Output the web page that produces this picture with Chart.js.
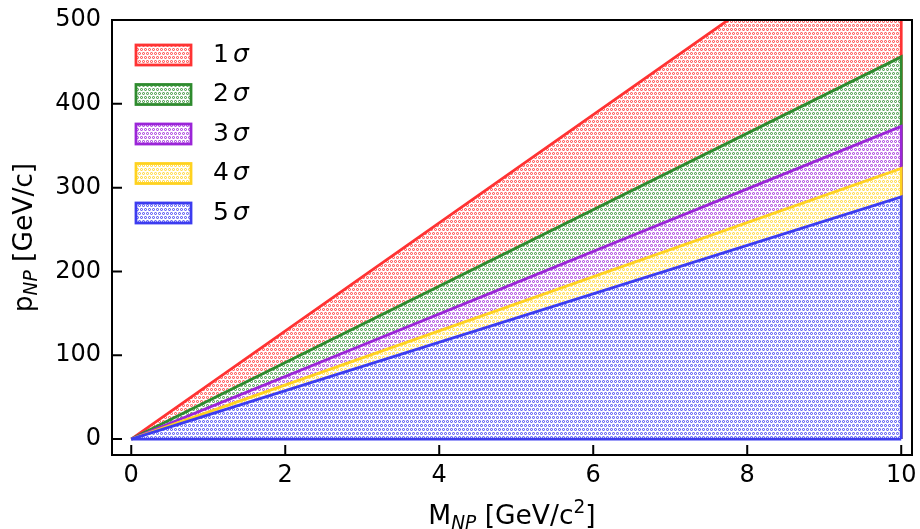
<!DOCTYPE html>
<html>
<head>
<meta charset="utf-8">
<script src="https://cdn.jsdelivr.net/npm/chart.js@4.4.0/dist/chart.umd.min.js"></script>
<style>
  html, body { margin: 0; padding: 0; background: #fff; }
  #wrap { width: 920px; height: 529px; }
</style>
</head>
<body>
<div id="wrap"><canvas id="sigmaChart"></canvas></div>
<script>
// n-sigma levels and their colours
const sigmaLevels = ['1', '2', '3', '4', '5'];
const sigmaColors = ['#ff3333', '#2e8b2e', '#9b25d8', '#ffd21f', '#3c3cf0'];

// mass range and p_NP reached at the end of it, one per level
const massEdge = [0, 10];
const pAtMassEnd = [645, 456, 373, 323, 289];

const xTicks = [0, 2, 4, 6, 8, 10];
const yTicks = [0, 100, 200, 300, 400, 500];

const FONT = "'DejaVu Sans', sans-serif";

const canvas = document.getElementById('sigmaChart');
const ctx = canvas.getContext('2d');

// little rings, like the matplotlib 'o' hatch
function makeHatch(color) {
    const tile = document.createElement('canvas');
    tile.width = 8;
    tile.height = 8;
    const c = tile.getContext('2d');
    c.fillStyle = '#fff';
    c.fillRect(0, 0, 8, 8);
    c.fillStyle = color;
    const ring = (x0, y0) => {
        c.globalAlpha = 0.75;
        c.fillRect(x0 + 1, y0, 1, 1);
        c.fillRect(x0 + 1, y0 + 2, 1, 1);
        c.fillRect(x0, y0 + 1, 1, 1);
        c.fillRect(x0 + 2, y0 + 1, 1, 1);
        c.globalAlpha = 0.35;
        c.fillRect(x0, y0, 1, 1);
        c.fillRect(x0 + 2, y0, 1, 1);
        c.fillRect(x0, y0 + 2, 1, 1);
        c.fillRect(x0 + 2, y0 + 2, 1, 1);
    };
    ring(0, 0); ring(4, 0);
    ring(2, 4); ring(6, 4); ring(-2, 4);
    return ctx.createPattern(tile, 'repeat');
}

const datasets = sigmaLevels.map((s, i) => ({
    label: s + ' σ',
    data: [
        {x: massEdge[0], y: 0},
        {x: massEdge[1], y: pAtMassEnd[i]},
        {x: massEdge[1], y: 0}
    ],
    borderColor: sigmaColors[i],
    backgroundColor: makeHatch(sigmaColors[i]),
    borderWidth: 2.8,
    pointRadius: 0,
    tension: 0,
    fill: 'origin',
    order: sigmaLevels.length - i   // 5 sigma on top
}));

// text with sub / superscripts, parts = [text, kind]
function drawRich(c, parts, size, x, y, align) {
    const widths = parts.map(([t, kind]) => {
        c.font = (kind === 'sub' ? 'italic ' : '') + (kind ? size * 0.7 : size) + 'px ' + FONT;
        return c.measureText(t).width;
    });
    const total = widths.reduce((a, b) => a + b, 0);
    let cx = align === 'center' ? x - total / 2 : x;
    parts.forEach(([t, kind], k) => {
        c.font = (kind === 'sub' ? 'italic ' : '') + (kind ? size * 0.7 : size) + 'px ' + FONT;
        let dy = 0;
        if (kind === 'sub') dy = size * 0.18;
        if (kind === 'sup') dy = -size * 0.4;
        c.fillText(t, cx, y + dy);
        cx += widths[k];
    });
}

const decorations = {
    id: 'decorations',
    afterDatasetsDraw(chart) {
        const c = chart.ctx;
        const area = chart.chartArea;
        // bottom edge of the front region
        const meta = chart.getDatasetMeta(sigmaLevels.length - 1);
        const p0 = meta.data[0], p2 = meta.data[2];
        c.save();
        c.beginPath();
        c.rect(area.left, area.top, area.right - area.left, area.bottom - area.top);
        c.clip();
        c.strokeStyle = sigmaColors[sigmaLevels.length - 1];
        c.lineWidth = 2.8;
        c.beginPath();
        c.moveTo(p0.x, p0.y);
        c.lineTo(p2.x, p2.y);
        c.stroke();
        c.restore();
    },
    afterDraw(chart) {
        const c = chart.ctx;
        const area = chart.chartArea;
        const xs = chart.scales.x, ys = chart.scales.y;
        c.save();
        c.strokeStyle = '#000';
        c.fillStyle = '#000';

        // frame
        c.lineWidth = 2;
        c.strokeRect(area.left, area.top, area.right - area.left, area.bottom - area.top);

        // inward ticks
        c.lineWidth = 2;
        c.beginPath();
        xTicks.forEach(v => {
            const px = xs.getPixelForValue(v);
            c.moveTo(px, area.bottom);
            c.lineTo(px, area.bottom - 10);
        });
        yTicks.forEach(v => {
            const py = ys.getPixelForValue(v);
            c.moveTo(area.left, py);
            c.lineTo(area.left + 10, py);
        });
        c.stroke();

        // axis titles
        c.textBaseline = 'alphabetic';
        c.textAlign = 'left';
        drawRich(c, [['M'], ['NP', 'sub'], [' [GeV/c'], ['2', 'sup'], [']']], 26.5,
            (area.left + area.right) / 2, 524, 'center');
        c.save();
        c.translate(32, (area.top + area.bottom) / 2);
        c.rotate(-Math.PI / 2);
        drawRich(c, [['p'], ['NP', 'sub'], [' [GeV/c]']], 26.5, 0, 0, 'center');
        c.restore();

        // legend
        c.textBaseline = 'middle';
        chart.data.datasets.forEach((ds, i) => {
            const cy = area.top + 35 + i * 39.5;
            const bx = area.left + 24;
            c.fillStyle = ds.backgroundColor;
            c.fillRect(bx, cy - 10, 55, 20);
            c.strokeStyle = ds.borderColor;
            c.lineWidth = 2.8;
            c.strokeRect(bx, cy - 10, 55, 20);
            c.fillStyle = '#000';
            c.font = '25px ' + FONT;
            const tx = bx + 77;
            c.fillText(sigmaLevels[i], tx, cy);
            const w = c.measureText(sigmaLevels[i]).width;
            c.font = 'italic 25px ' + FONT;
            c.fillText('σ', tx + w + 4, cy);
        });
        c.restore();
    }
};

new Chart(ctx, {
    type: 'line',
    data: {datasets: datasets},
    options: {
        responsive: true,
        maintainAspectRatio: false,
        animation: false,
        events: [],
        layout: {padding: {left: 0, right: 8, top: 20, bottom: 0}},
        plugins: {
            legend: {display: false},
            tooltip: {enabled: false}
        },
        scales: {
            x: {
                type: 'linear',
                min: -0.25,
                max: 10.14,
                afterBuildTicks: s => { s.ticks = xTicks.map(v => ({value: v})); },
                afterFit: s => { s.height = 74; s.paddingLeft = 0; s.paddingRight = 0; },
                grid: {display: false, drawTicks: false},
                border: {display: false},
                ticks: {
                    color: '#000',
                    font: {family: FONT, size: 24},
                    padding: 6,
                    maxRotation: 0,
                    autoSkip: false
                }
            },
            y: {
                type: 'linear',
                min: -19,
                max: 500,
                afterBuildTicks: s => { s.ticks = yTicks.map(v => ({value: v})); },
                afterFit: s => { s.width = 112; s.paddingTop = 0; s.paddingBottom = 0; },
                grid: {display: false, drawTicks: false},
                border: {display: false},
                ticks: {
                    color: '#000',
                    font: {family: FONT, size: 24},
                    padding: 11
                }
            }
        }
    },
    plugins: [decorations]
});
</script>
</body>
</html>
